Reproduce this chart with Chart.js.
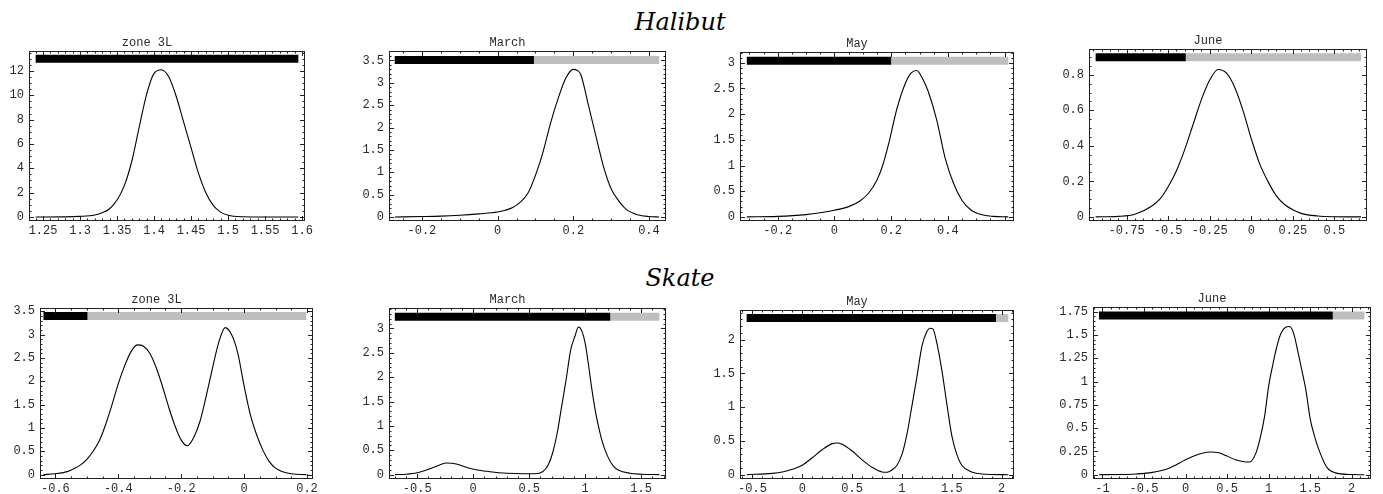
<!DOCTYPE html>
<html>
<head>
<meta charset="utf-8">
<script src="https://cdn.jsdelivr.net/npm/chart.js@4.4.1/dist/chart.umd.min.js"></script>
<style>
  html, body { margin: 0; padding: 0; background: #fff; }
  body { width: 1383px; height: 494px; position: relative; overflow: hidden; }
  canvas { position: absolute; }
  .species {
    position: absolute; width: 200px; text-align: center;
    font-family: "DejaVu Serif", serif; font-style: italic;
    font-size: 24px; line-height: 24px; color: #000;
  }
</style>
</head>
<body>
<div class="species" style="left:580px; top:10px;">Halibut</div>
<div class="species" style="left:580px; top:266px;">Skate</div>
<script>
// titres des panneaux
const panelTitles = ['zone 3L', 'March', 'May', 'June'];

// Halibut - courbes de densité
const halibutZoneX = [1.24, 1.28, 1.30, 1.32, 1.33, 1.34, 1.35, 1.36, 1.37, 1.38, 1.39, 1.40, 1.41, 1.42, 1.43, 1.44, 1.45, 1.46, 1.47, 1.48, 1.49, 1.50, 1.52, 1.55, 1.595];
const halibutZoneY = [0, 0.01, 0.05, 0.17, 0.35, 0.68, 1.4, 2.6, 4.6, 7.4, 10.1, 11.8, 12.1, 11.5, 9.9, 7.8, 5.7, 3.6, 2.0, 0.96, 0.4, 0.14, 0.02, 0, 0];
const halibutMarchX = [-0.272, -0.2, -0.15, -0.1, -0.05, 0, 0.02, 0.04, 0.06, 0.08, 0.1, 0.12, 0.14, 0.16, 0.18, 0.2, 0.21, 0.22, 0.24, 0.26, 0.28, 0.30, 0.32, 0.34, 0.37, 0.40, 0.427];
const halibutMarchY = [0, 0.01, 0.02, 0.04, 0.07, 0.11, 0.15, 0.21, 0.33, 0.53, 0.93, 1.45, 2.1, 2.65, 3.1, 3.3, 3.28, 3.18, 2.5, 1.8, 1.12, 0.63, 0.36, 0.17, 0.05, 0.01, 0];
const halibutMayX = [-0.309, -0.2, -0.1, -0.05, 0, 0.05, 0.09, 0.12, 0.15, 0.17, 0.19, 0.22, 0.25, 0.27, 0.29, 0.31, 0.33, 0.36, 0.39, 0.42, 0.45, 0.48, 0.52, 0.56, 0.613];
const halibutMayY = [0, 0.01, 0.045, 0.08, 0.13, 0.2, 0.31, 0.46, 0.72, 1.0, 1.4, 2.1, 2.6, 2.8, 2.85, 2.7, 2.45, 1.9, 1.15, 0.65, 0.32, 0.14, 0.04, 0.01, 0];
const halibutJuneX = [-0.936, -0.8, -0.7, -0.6, -0.55, -0.5, -0.45, -0.4, -0.35, -0.3, -0.25, -0.2, -0.15, -0.1, -0.05, 0, 0.05, 0.1, 0.15, 0.2, 0.25, 0.3, 0.4, 0.5, 0.66];
const halibutJuneY = [0, 0.003, 0.015, 0.06, 0.1, 0.17, 0.26, 0.38, 0.52, 0.66, 0.77, 0.83, 0.81, 0.73, 0.6, 0.44, 0.3, 0.2, 0.12, 0.07, 0.04, 0.02, 0.005, 0.001, 0];

// Skate - courbes de densité
const skateZoneX = [-0.638, -0.6, -0.56, -0.54, -0.52, -0.50, -0.48, -0.46, -0.44, -0.42, -0.40, -0.38, -0.36, -0.34, -0.32, -0.30, -0.28, -0.26, -0.24, -0.22, -0.20, -0.18, -0.16, -0.14, -0.12, -0.10, -0.08, -0.06, -0.04, -0.02, 0, 0.02, 0.04, 0.06, 0.08, 0.10, 0.12, 0.15, 0.198];
const skateZoneY = [0, 0.02, 0.07, 0.13, 0.21, 0.33, 0.5, 0.73, 1.08, 1.5, 1.95, 2.33, 2.63, 2.78, 2.75, 2.6, 2.3, 1.9, 1.45, 1.05, 0.74, 0.62, 0.8, 1.15, 1.7, 2.3, 2.85, 3.15, 3.0, 2.6, 1.9, 1.28, 0.85, 0.52, 0.28, 0.14, 0.07, 0.02, 0];
const skateMarchX = [-0.70, -0.6, -0.5, -0.4, -0.3, -0.24, -0.15, -0.05, 0.05, 0.15, 0.3, 0.45, 0.55, 0.62, 0.67, 0.71, 0.75, 0.79, 0.83, 0.87, 0.91, 0.94, 0.97, 1.0, 1.03, 1.06, 1.09, 1.12, 1.16, 1.2, 1.25, 1.3, 1.4, 1.5, 1.663];
const skateMarchY = [0, 0.01, 0.04, 0.11, 0.2, 0.24, 0.22, 0.14, 0.09, 0.06, 0.03, 0.02, 0.02, 0.06, 0.2, 0.45, 0.85, 1.4, 1.95, 2.55, 2.85, 3.03, 2.95, 2.7, 2.25, 1.75, 1.32, 0.98, 0.62, 0.38, 0.18, 0.09, 0.03, 0.01, 0];
const skateMayX = [-0.558, -0.3, -0.2, -0.1, 0, 0.1, 0.2, 0.3, 0.35, 0.4, 0.5, 0.6, 0.7, 0.8, 0.85, 0.9, 0.95, 1.0, 1.05, 1.1, 1.15, 1.2, 1.25, 1.28, 1.31, 1.35, 1.4, 1.45, 1.5, 1.55, 1.6, 1.7, 1.8, 2.067];
const skateMayY = [0, 0.02, 0.04, 0.08, 0.14, 0.25, 0.37, 0.46, 0.47, 0.45, 0.35, 0.22, 0.11, 0.04, 0.035, 0.07, 0.14, 0.3, 0.6, 1.02, 1.45, 1.9, 2.12, 2.17, 2.16, 1.95, 1.55, 1.05, 0.58, 0.3, 0.14, 0.04, 0.01, 0];
const skateJuneX = [-1.042, -0.8, -0.6, -0.4, -0.2, 0, 0.1, 0.2, 0.3, 0.4, 0.5, 0.6, 0.7, 0.77, 0.85, 0.9, 0.95, 1.0, 1.05, 1.1, 1.15, 1.2, 1.25, 1.3, 1.35, 1.4, 1.45, 1.5, 1.55, 1.6, 1.7, 1.8, 2.0, 2.152];
const skateJuneY = [0, 0.002, 0.008, 0.025, 0.07, 0.16, 0.2, 0.23, 0.243, 0.235, 0.2, 0.16, 0.14, 0.136, 0.24, 0.4, 0.62, 0.95, 1.18, 1.38, 1.52, 1.58, 1.59, 1.52, 1.33, 1.12, 0.9, 0.6, 0.42, 0.28, 0.08, 0.02, 0.002, 0];

// barres du haut : niveau, début, séparation noir/gris, fin
const halibutBandLevel = [13.0, 3.51, 3.04, 0.898];
const halibutBandStart = [1.24, -0.272, -0.309, -0.936];
const halibutBandSplit = [1.595, 0.096, 0.2, -0.394];
const halibutBandEnd = [1.595, 0.427, 0.613, 0.66];
const skateBandLevel = [3.4, 3.24, 2.32, 1.71];
const skateBandStart = [-0.638, -0.70, -0.558, -1.042];
const skateBandSplit = [-0.498, 1.224, 1.943, 1.772];
const skateBandEnd = [0.198, 1.663, 2.067, 2.152];

// graduations
const halibutXTicks = [[1.25, 1.3, 1.35, 1.4, 1.45, 1.5, 1.55, 1.6], [-0.2, 0, 0.2, 0.4], [-0.2, 0, 0.2, 0.4], [-0.75, -0.5, -0.25, 0, 0.25, 0.5]];
const halibutYTicks = [[0, 2, 4, 6, 8, 10, 12], [0, 0.5, 1, 1.5, 2, 2.5, 3, 3.5], [0, 0.5, 1, 1.5, 2, 2.5, 3], [0, 0.2, 0.4, 0.6, 0.8]];
const skateXTicks = [[-0.6, -0.4, -0.2, 0, 0.2], [-0.5, 0, 0.5, 1, 1.5], [-0.5, 0, 0.5, 1, 1.5, 2], [-1, -0.5, 0, 0.5, 1, 1.5, 2]];
const skateYTicks = [[0, 0.5, 1, 1.5, 2, 2.5, 3, 3.5], [0, 0.5, 1, 1.5, 2, 2.5, 3], [0, 0.5, 1, 1.5, 2], [0, 0.25, 0.5, 0.75, 1, 1.25, 1.5, 1.75]];

// mise en page : cadre [gauche, haut, droite, bas] et plages des axes
const halibutFrames = [[29, 51, 305, 221], [389, 51, 666, 221], [740, 52, 1014, 221], [1089, 49, 1367, 221]];
const skateFrames = [[40, 308, 313, 479], [389, 308, 666, 479], [740, 310, 1014, 479], [1093, 307, 1371, 479]];
const halibutRanges = [[1.231, 1.604, -0.33, 13.64], [-0.287, 0.445, -0.09, 3.71], [-0.333, 0.633, -0.08, 3.21], [-0.976, 0.696, -0.023, 0.945]];
const skateRanges = [[-0.649, 0.219, -0.093, 3.57], [-0.752, 1.722, -0.089, 3.42], [-0.625, 2.124, -0.064, 2.44], [-1.114, 2.232, -0.046, 1.80]];

const Y_AXIS_W = 40, X_AXIS_H = 20, TITLE_H = 15, PAD_RIGHT = 14;
const monoFont = { family: '"Liberation Mono", "DejaVu Sans Mono", monospace', size: 12, lineHeight: 1, weight: 'normal' };
const textColor = '#2a2a2a';

const fmt = v => parseFloat(Number(v).toFixed(6)).toString();

// cadre à la Mathematica : ticks vers l'intérieur sur les 4 côtés
const framePlugin = {
  id: 'frame',
  afterDatasetsDraw(chart, args, opts) {
    const { ctx, chartArea: a, scales } = chart;
    ctx.save();
    ctx.strokeStyle = '#222';
    ctx.lineWidth = 1;
    const sub = step => {
      const first = Math.round(step / Math.pow(10, Math.floor(Math.log10(step))));
      return first === 2 ? 4 : 5;
    };
    const ticksFor = (major, min, max) => {
      const out = [];
      const step = major[1] - major[0];
      const n = sub(step);
      const m = step / n;
      const k0 = Math.ceil((min - major[0]) / m - 1e-9);
      const k1 = Math.floor((max - major[0]) / m + 1e-9);
      for (let k = k0; k <= k1; k++) {
        out.push({ v: major[0] + k * m, major: ((k % n) + n) % n === 0 });
      }
      return out;
    };
    ctx.beginPath();
    ticksFor(opts.xTicks, scales.x.min, scales.x.max).forEach(t => {
      const px = Math.round(scales.x.getPixelForValue(t.v)) + 0.5;
      const len = t.major ? 5 : 2.5;
      ctx.moveTo(px, a.bottom); ctx.lineTo(px, a.bottom - len);
      ctx.moveTo(px, a.top); ctx.lineTo(px, a.top + len);
    });
    ticksFor(opts.yTicks, scales.y.min, scales.y.max).forEach(t => {
      const py = Math.round(scales.y.getPixelForValue(t.v)) + 0.5;
      const len = t.major ? 5 : 2.5;
      ctx.moveTo(a.left, py); ctx.lineTo(a.left + len, py);
      ctx.moveTo(a.right, py); ctx.lineTo(a.right - len, py);
    });
    ctx.stroke();
    ctx.strokeRect(Math.round(a.left) + 0.5, Math.round(a.top) + 0.5,
      Math.round(a.right - a.left) - 1, Math.round(a.bottom - a.top) - 1);
    ctx.restore();
  }
};

function makePanel(title, xs, ys, level, start, split, end, xTicks, yTicks, frame, range) {
  const [L, T, R, B] = frame;
  const canvas = document.createElement('canvas');
  const w = R - L + Y_AXIS_W + PAD_RIGHT;
  const h = B - T + TITLE_H + X_AXIS_H;
  canvas.width = w; canvas.height = h;
  canvas.style.width = w + 'px'; canvas.style.height = h + 'px';
  canvas.style.left = (L - Y_AXIS_W) + 'px';
  canvas.style.top = (T - TITLE_H) + 'px';
  document.body.appendChild(canvas);

  const curve = xs.map((x, i) => ({ x: x, y: ys[i] }));

  new Chart(canvas, {
    type: 'line',
    data: {
      datasets: [
        { data: curve, borderColor: '#000', borderWidth: 1.1, pointRadius: 0, cubicInterpolationMode: 'monotone', fill: false },
        { data: [{ x: start, y: level }, { x: split, y: level }], borderColor: '#000', borderWidth: 8, pointRadius: 0, borderCapStyle: 'butt' },
        { data: [{ x: split, y: level }, { x: end, y: level }], borderColor: '#bebebe', borderWidth: 8, pointRadius: 0, borderCapStyle: 'butt' }
      ]
    },
    options: {
      responsive: false,
      animation: false,
      events: [],
      layout: { padding: { left: 0, right: PAD_RIGHT, top: 0, bottom: 0 } },
      plugins: {
        legend: { display: false },
        tooltip: { enabled: false },
        title: { display: true, text: title, color: textColor, font: monoFont, padding: { top: 1, bottom: 2 } },
        frame: { xTicks: xTicks, yTicks: yTicks }
      },
      scales: {
        x: {
          type: 'linear', min: range[0], max: range[1],
          grid: { display: false, drawTicks: false }, border: { display: false },
          ticks: { color: textColor, font: monoFont, padding: 4, maxRotation: 0, autoSkip: false, callback: fmt },
          afterBuildTicks: s => { s.ticks = xTicks.map(v => ({ value: v })); },
          afterFit: s => { s.height = X_AXIS_H; }
        },
        y: {
          type: 'linear', min: range[2], max: range[3],
          grid: { display: false, drawTicks: false }, border: { display: false },
          ticks: { color: textColor, font: monoFont, padding: 5, autoSkip: false, callback: fmt },
          afterBuildTicks: s => { s.ticks = yTicks.map(v => ({ value: v })); },
          afterFit: s => { s.width = Y_AXIS_W; }
        }
      }
    },
    plugins: [framePlugin]
  });
}

const halibutX = [halibutZoneX, halibutMarchX, halibutMayX, halibutJuneX];
const halibutY = [halibutZoneY, halibutMarchY, halibutMayY, halibutJuneY];
const skateX = [skateZoneX, skateMarchX, skateMayX, skateJuneX];
const skateY = [skateZoneY, skateMarchY, skateMayY, skateJuneY];

for (let i = 0; i < 4; i++) {
  makePanel(panelTitles[i], halibutX[i], halibutY[i], halibutBandLevel[i], halibutBandStart[i], halibutBandSplit[i], halibutBandEnd[i], halibutXTicks[i], halibutYTicks[i], halibutFrames[i], halibutRanges[i]);
  makePanel(panelTitles[i], skateX[i], skateY[i], skateBandLevel[i], skateBandStart[i], skateBandSplit[i], skateBandEnd[i], skateXTicks[i], skateYTicks[i], skateFrames[i], skateRanges[i]);
}
</script>
</body>
</html>
